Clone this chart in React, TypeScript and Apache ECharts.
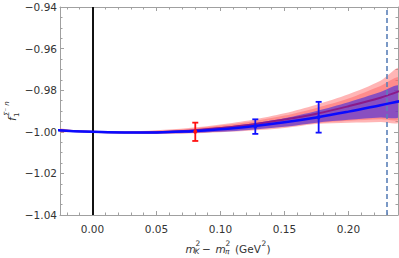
import React, { useEffect, useRef } from "react";
import * as echarts from "echarts";

// ---- data ----
const xs = [-0.03, -0.015, 0, 0.025, 0.05, 0.075, 0.1, 0.125, 0.15, 0.175, 0.2, 0.225, 0.24];
const blueLine = [-0.9992, -0.9997, -1.0, -1.0003, -1.0003, -0.9998, -0.9988, -0.9973, -0.9954, -0.9931, -0.9903, -0.9872, -0.9853];
const purpleLine = [-0.9991, -0.9996, -1.0, -1.0003, -1.0002, -0.9995, -0.9982, -0.9965, -0.9941, -0.9913, -0.9877, -0.9836, -0.9804];
const redOuterHi = [-0.9982, -0.9992, -1.0, -0.9999, -0.9993, -0.9982, -0.9965, -0.9942, -0.9911, -0.987, -0.982, -0.9755, -0.9695];
const redOuterLo = [-1.0001, -1.0001, -1.0, -1.0007, -1.001, -1.0008, -1.0002, -0.9994, -0.9982, -0.9963, -0.9957, -0.9953, -0.9951];
const redInnerHi = [-0.9985, -0.9994, -1.0, -1.0, -0.9995, -0.9986, -0.997, -0.995, -0.9922, -0.9885, -0.984, -0.978, -0.974];
const redInnerLo = [-0.9999, -1.0, -1.0, -1.0006, -1.0008, -1.0005, -0.9998, -0.9988, -0.9975, -0.9958, -0.9947, -0.994, -0.9936];
const blueHi = [-0.9988, -0.9995, -1.0, -1.0001, -0.9998, -0.9991, -0.9978, -0.996, -0.9935, -0.99, -0.9858, -0.9809, -0.978];
const blueLo = [-0.9997, -0.9999, -1.0, -1.0006, -1.0008, -1.0006, -1.0, -0.999, -0.9976, -0.9956, -0.9942, -0.9931, -0.9926];

const ptX = [0.0803, 0.1272, 0.1767];
const ptY = [-1.0, -0.9975, -0.993];
const ptErr = [0.0044, 0.0035, 0.0074];
const ptColor = ["#ff1010", "#1010ff", "#1010ff"];

const xMajor = [0, 0.05, 0.1, 0.15, 0.2];
const xMinor = [-0.02, -0.01, 0.01, 0.02, 0.03, 0.04, 0.06, 0.07, 0.08, 0.09, 0.11, 0.12, 0.13, 0.14, 0.16, 0.17, 0.18, 0.19, 0.21, 0.22, 0.23];
const XMIN = -0.0254;
const XMAX = 0.2387;
const YMIN = -1.04;
const YMAX = -0.94;
const YSTEP = 0.02;
const xPhys = 0.2275;

const FONT = '"DejaVu Sans", sans-serif';
const AX = "#a0a0a0";
const TXT = "#333";

function band(lo: number[], hi: number[], fill: string, z: number) {
  return {
    type: "custom",
    z,
    silent: true,
    data: xs.map((x, i) => [x, lo[i], hi[i]]),
    encode: { x: 0, y: [1, 2] },
    renderItem: (params: any, api: any) => {
      if (params.dataIndex !== 0) return null;
      const pts: number[][] = [];
      for (let i = 0; i < xs.length; i++) pts.push(api.coord([xs[i], hi[i]]));
      for (let i = xs.length - 1; i >= 0; i--) pts.push(api.coord([xs[i], lo[i]]));
      const cs = params.coordSys;
      return {
        type: "group",
        clipPath: { type: "rect", shape: { x: cs.x, y: cs.y, width: cs.width, height: cs.height } },
        children: [
          { type: "polygon", shape: { points: pts, smooth: 0.3 }, style: { fill, stroke: "none" } },
        ],
      };
    },
  };
}

const xAxisBase = (pos: string, ticks: number[], len: number, showLine: boolean, showLabel: boolean) => ({
  type: "value",
  min: XMIN,
  max: XMAX,
  position: pos,
  gridIndex: 0,
  axisLine: { show: showLine, onZero: false, lineStyle: { color: AX, width: 1 } },
  axisTick: { show: true, inside: true, length: len, customValues: ticks, lineStyle: { color: AX, width: 1 } },
  axisLabel: {
    show: showLabel,
    customValues: xMajor,
    formatter: (v: number) => v.toFixed(2),
    fontFamily: FONT,
    fontSize: 10.5,
    color: TXT,
    margin: 8,
  },
  splitLine: { show: false },
});

const yAxisBase = (pos: string, showLabel: boolean) => ({
  type: "value",
  min: YMIN,
  max: YMAX,
  interval: YSTEP,
  position: pos,
  axisLine: { show: true, onZero: false, lineStyle: { color: AX, width: 1 } },
  axisTick: { show: true, inside: true, length: 4, lineStyle: { color: AX, width: 1 } },
  minorTick: { show: true, splitNumber: 4, length: 2.5, lineStyle: { color: AX, width: 1 } },
  axisLabel: {
    show: showLabel,
    formatter: (v: number) => (v < 0 ? "\u2212" : "") + Math.abs(v).toFixed(2),
    fontFamily: FONT,
    fontSize: 10.5,
    color: TXT,
    margin: 3,
  },
  splitLine: { show: false },
});

function txt(text: string, x: number, y: number, size: number, italic = false) {
  return {
    type: "text",
    x,
    y,
    silent: true,
    style: {
      text,
      fill: TXT,
      font: `${italic ? "italic " : ""}${size}px ${FONT}`,
      textAlign: "left",
      align: "left",
      textVerticalAlign: "middle",
      verticalAlign: "middle",
    },
  };
}

export default function App() {
  const ref = useRef<HTMLDivElement>(null);
  useEffect(() => {
    if (!ref.current) return;
    const chart = echarts.init(ref.current, null, { renderer: "svg" });
    const option: any = {
      animation: false,
      grid: { left: 60, right: 1, top: 7, bottom: 43, containLabel: false },
      xAxis: [
        xAxisBase("bottom", xMajor, 4, true, true),
        xAxisBase("bottom", xMinor, 2.5, false, false),
        xAxisBase("top", xMajor, 4, true, false),
        xAxisBase("top", xMinor, 2.5, false, false),
      ],
      yAxis: [yAxisBase("left", true), yAxisBase("right", false)],
      graphic: [
        // x axis name: m_K^2 − m_π^2 (GeV^2)
        txt("m", 185.5, 248.5, 10.5, true),
        txt("2", 195.5, 243, 7.5),
        txt("K", 194.5, 251.5, 7.5, true),
        txt("\u2212", 202, 248.5, 10.5),
        txt("m", 215.5, 248.5, 10.5, true),
        txt("2", 225.5, 243, 7.5),
        txt("\u03c0", 225, 251.5, 7.5, true),
        txt("(GeV", 235, 248.5, 10.5),
        txt("2", 261.5, 243, 7.5),
        txt(")", 266.5, 248.5, 10.5),
        // y axis name: f_1^{Σ⁻ n}
        {
          type: "group",
          x: 15,
          y: 121,
          rotation: Math.PI / 2,
          children: [
            txt("f", 0, -3.5, 10.5, true),
            txt("1", 4, 1.5, 7),
            txt("\u03a3\u207b n", 5, -8, 7, true),
          ],
        },
      ],
      series: [
        band(redOuterLo, redOuterHi, "rgba(255,120,120,0.55)", 1),
        band(redInnerLo, redInnerHi, "rgba(255,90,90,0.45)", 2),
        band(blueLo, blueHi, "rgba(40,30,235,0.55)", 3),
        {
          type: "line",
          z: 4,
          data: xs.map((x, i) => [x, purpleLine[i]]),
          smooth: 0.4,
          symbol: "none",
          silent: true,
          lineStyle: { color: "#8a1a8a", width: 2 },
        },
        {
          type: "line",
          z: 5,
          data: xs.map((x, i) => [x, blueLine[i]]),
          smooth: 0.4,
          symbol: "none",
          silent: true,
          lineStyle: { color: "#0a0aff", width: 2.5 },
        },
        {
          type: "line",
          z: 6,
          data: [[0, -1]],
          symbol: "none",
          silent: true,
          lineStyle: { width: 0, opacity: 0 },
          markLine: {
            silent: true,
            symbol: ["none", "none"],
            label: { show: false },
            animation: false,
            data: [
              { xAxis: 0, lineStyle: { color: "#111", width: 2, type: "solid" } },
              { xAxis: xPhys, lineStyle: { color: "#5a80b8", width: 1.6, type: [5, 3] } },
            ],
          },
        },
        {
          type: "custom",
          z: 7,
          silent: true,
          data: ptX.map((x, i) => [x, ptY[i], ptY[i] - ptErr[i], ptY[i] + ptErr[i]]),
          encode: { x: 0, y: [1, 2, 3] },
          renderItem: (params: any, api: any) => {
            const i = params.dataIndex;
            const x = api.value(0);
            const c = api.coord([x, api.value(1)]);
            const lo = api.coord([x, api.value(2)]);
            const hi = api.coord([x, api.value(3)]);
            const col = ptColor[i];
            const st = { stroke: col, lineWidth: 1.8 };
            return {
              type: "group",
              children: [
                { type: "line", shape: { x1: c[0], y1: lo[1], x2: c[0], y2: hi[1] }, style: st },
                { type: "line", shape: { x1: c[0] - 3, y1: lo[1], x2: c[0] + 3, y2: lo[1] }, style: st },
                { type: "line", shape: { x1: c[0] - 3, y1: hi[1], x2: c[0] + 3, y2: hi[1] }, style: st },
                { type: "circle", shape: { cx: c[0], cy: c[1], r: 2 }, style: { fill: col } },
              ],
            };
          },
        },
      ],
    };
    chart.setOption(option);
    return () => chart.dispose();
  }, []);
  return (
    <div
      ref={ref}
      style={{ position: "absolute", left: 0, top: 0, width: 399, height: 258 }}
    />
  );
}
